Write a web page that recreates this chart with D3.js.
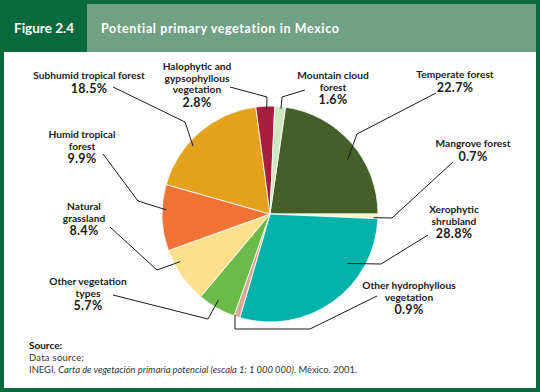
<!DOCTYPE html>
<html><head><meta charset="utf-8">
<script src="https://cdn.jsdelivr.net/npm/d3@7"></script>
<style>
html,body{margin:0;padding:0;background:#fff;}
svg{display:block;}
</style></head>
<body>
<svg id="chart" width="540" height="392"></svg>
<script>
// ---- data ----
const categories = ["Temperate forest","Mangrove forest","Xerophytic shrubland","Other hydrophyllous vegetation","Other vegetation types","Natural grassland","Humid tropical forest","Subhumid tropical forest","Halophytic and gypsophyllous vegetation","Mountain cloud forest"];
const values = [22.7, 0.7, 28.8, 0.9, 5.7, 8.4, 9.9, 18.5, 2.8, 1.6];
const labelLines = [["Temperate forest"],["Mangrove forest"],["Xerophytic","shrubland"],["Other hydrophyllous","vegetation"],["Other vegetation","types"],["Natural","grassland"],["Humid tropical","forest"],["Subhumid tropical forest"],["Halophytic and","gypsophyllous","vegetation"],["Mountain cloud","forest"]];
const colors = ["#445f27","#fdf4c4","#00b2aa","#d7a897","#6cbb4a","#fde08e","#f07235","#e3a11c","#a51f3c","#cfe8c1"];

// ---- layout (label placement, not data) ----
const layout = [
  {x:455, y:78,  start:[436,93],  elbow:[357,134], t:0.57, rf:0.88},
  {x:473, y:147, start:[453,162], elbow:[392,218], t:0.8,  rf:0.96},
  {x:454, y:213, start:[428,235], elbow:[381,264], t:0.29, rf:0.85},
  {x:409, y:289, start:[377,296], elbow:[310,329], elbow2:[235,329], t:0.9, rf:0.99},
  {x:88,  y:285, start:[113,295], elbow:[208,319], t:0.56, rf:0.93},
  {x:84,  y:210, start:[110,227], elbow:[157,270], t:0.73, rf:0.94},
  {x:82,  y:138, start:[103,154], elbow:[138,201], t:0.62, rf:0.96},
  {x:89,  y:79,  start:[113,87],  elbow:[185,122], t:0.385, rf:0.95},
  {x:197, y:70,  start:[230,87],  elbow:[267,97],  t:0.57, rf:0.96},
  {x:333, y:79,  start:[305,90],  elbow:[282,97],  t:0.6,  rf:0.98}
];

const W = 540, H = 392;
const svg = d3.select("#chart");
const green = "#0a6a3f", band = "#72a087";
const font = "Lato, 'Open Sans', sans-serif";

// frame
svg.append("rect").attr("x",0).attr("y",0).attr("width",W).attr("height",H).attr("fill",green);
svg.append("rect").attr("x",4).attr("y",4).attr("width",W-8).attr("height",H-8).attr("fill","#fff");
svg.append("rect").attr("x",0).attr("y",0).attr("width",87).attr("height",52).attr("fill",green);
svg.append("rect").attr("x",87).attr("y",4).attr("width",W-4-87).attr("height",48).attr("fill",band);
svg.append("text").attr("x",14).attr("y",33).attr("fill","#fff").attr("font-family",font)
  .attr("font-weight","bold").attr("font-size",13.5).text("Figure 2.4");
svg.append("text").attr("x",101).attr("y",33).attr("fill","#fff").attr("font-family",font)
  .attr("font-weight","bold").attr("font-size",12.5).attr("letter-spacing",0.62).text("Potential primary vegetation in Mexico");

// pie
const cx = 270, cy = 214, R = 108;
const total = d3.sum(values);
const start = Math.PI/2 - 2*Math.PI*values[0]/total;
const pie = d3.pie().sort(null).value(d=>d).startAngle(start).endAngle(start+2*Math.PI);
const arcs = pie(values);
const arc = d3.arc().innerRadius(0).outerRadius(R);
const g = svg.append("g").attr("transform",`translate(${cx},${cy})`);
g.selectAll("path").data(arcs).join("path")
  .attr("d",arc).attr("fill",(d,i)=>colors[i]).attr("stroke","#fff").attr("stroke-width",0.8);

// leader lines & labels
const fmt = d3.format(".1f");
arcs.forEach((a,i)=>{
  const L = layout[i];
  const ang = a.startAngle + (a.endAngle-a.startAngle)*L.t;
  const r = R*L.rf;
  const px = cx + r*Math.sin(ang), py = cy - r*Math.cos(ang);
  const pts = [L.start, L.elbow];
  if (L.elbow2) pts.push(L.elbow2);
  if (L.elbow2) pts.push([L.elbow2[0], py]); else pts.push([px,py]);
  svg.append("path").attr("d", d3.line()(pts)).attr("fill","none")
    .attr("stroke","#1a1a1a").attr("stroke-width",1);
  const t = svg.append("text").attr("font-family",font).attr("font-weight","bold")
    .attr("text-anchor","middle").attr("fill","#1a1a1a");
  labelLines[i].forEach((ln,j)=>{
    t.append("tspan").attr("x",L.x).attr("y",L.y+j*11.5).attr("font-size",10.2).text(ln);
  });
  t.append("tspan").attr("x",L.x).attr("y",L.y+labelLines[i].length*11.5+2).attr("font-size",12.5)
    .attr("letter-spacing",0.3).text(fmt(values[i])+"%");
});

// source
const src = svg.append("g").attr("font-family",font).attr("font-size",9.4).attr("fill","#333");
src.append("text").attr("x",29).attr("y",349).attr("font-size",10).attr("font-weight","bold").attr("fill","#111").text("Source:");
src.append("text").attr("x",29).attr("y",361).attr("letter-spacing",0.3).text("Data source:");
const s3 = src.append("text").attr("x",29).attr("y",373);
s3.append("tspan").text("INEGI. ");
s3.append("tspan").attr("font-style","italic").text("Carta de vegetación primaria potencial (escala 1: 1 000 000)");
s3.append("tspan").text(". México. 2001.");
</script>
</body></html>
